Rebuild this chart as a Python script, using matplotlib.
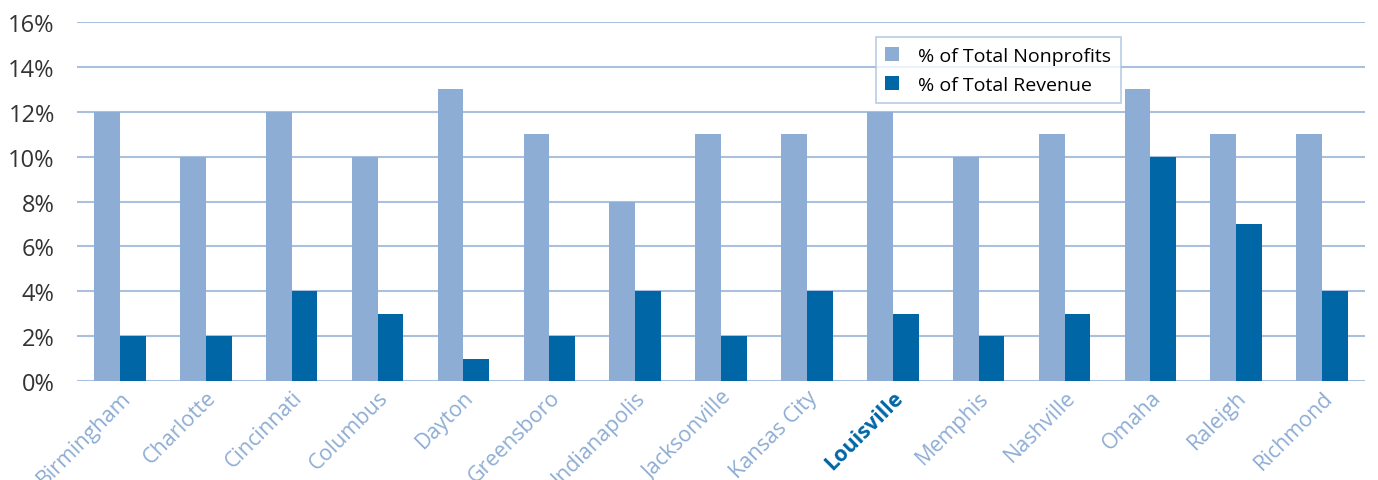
import matplotlib
matplotlib.use("Agg")
import matplotlib.pyplot as plt
import numpy as np
from matplotlib import font_manager
from matplotlib.ticker import FuncFormatter

# ── Data ──────────────────────────────────────────────────────────────────────
cities = ["Birmingham", "Charlotte", "Cincinnati", "Columbus", "Dayton",
          "Greensboro", "Indianapolis", "Jacksonville", "Kansas City",
          "Louisville", "Memphis", "Nashville", "Omaha", "Raleigh", "Richmond"]
pct_nonprofits = [12, 10, 12, 10, 13, 11, 8, 11, 11, 12, 10, 11, 13, 11, 11]
pct_revenue = [2, 2, 4, 3, 1, 2, 4, 2, 4, 3, 2, 3, 10, 7, 4]
highlight = "Louisville"

LIGHT = "#8EADD4"
DARK = "#0066A6"
GRID = "#A9C0DE"

plt.rcParams["font.family"] = ["Open Sans", "DejaVu Sans"]
names = {f.name for f in font_manager.fontManager.ttflist}
label_font = "Liberation Sans Narrow" if "Liberation Sans Narrow" in names else "Open Sans"
label_size = 17 if label_font == "Liberation Sans Narrow" else 15.5

fig = plt.figure(figsize=(13.78, 4.81), dpi=100)
ax = fig.add_axes([0.0559, 0.2058, 0.9347, 0.7462])

x = np.arange(len(cities))
w = 0.30
ax.bar(x - w / 2, pct_nonprofits, w, color=LIGHT, label="% of Total Nonprofits", zorder=3)
ax.bar(x + w / 2, pct_revenue, w, color=DARK, label="% of Total Revenue", zorder=3)

ax.set_xlim(-0.5, len(cities) - 0.5)
ax.set_ylim(0, 16)
ax.set_yticks(range(0, 17, 2))
ax.yaxis.set_major_formatter(FuncFormatter(lambda v, _: f"{v:.0f}%"))
ax.grid(axis="y", color=GRID, linewidth=1.5, zorder=0)
ax.set_axisbelow(True)
for s in ax.spines.values():
    s.set_visible(False)
ax.tick_params(axis="both", length=0)
ax.tick_params(axis="y", labelsize=17, labelcolor="#333333", pad=16)

ax.set_xticks(x)
ax.set_xticklabels(cities, rotation=45, ha="right", rotation_mode="anchor",
                   fontsize=label_size, color=LIGHT, family=label_font)
for lbl in ax.get_xticklabels():
    if lbl.get_text() == highlight:
        lbl.set_color(DARK)
        lbl.set_fontweight("bold")
ax.tick_params(axis="x", pad=4)

leg = ax.legend(loc="upper left", bbox_to_anchor=(0.6125, 0.985), fontsize=14,
                frameon=True, fancybox=False, handlelength=0.7, handleheight=0.7,
                handletextpad=1.0, borderpad=0.5, labelspacing=0.55)
leg.get_frame().set_edgecolor(GRID)
leg.get_frame().set_linewidth(1.2)

fig.savefig("out.png", dpi=100)
